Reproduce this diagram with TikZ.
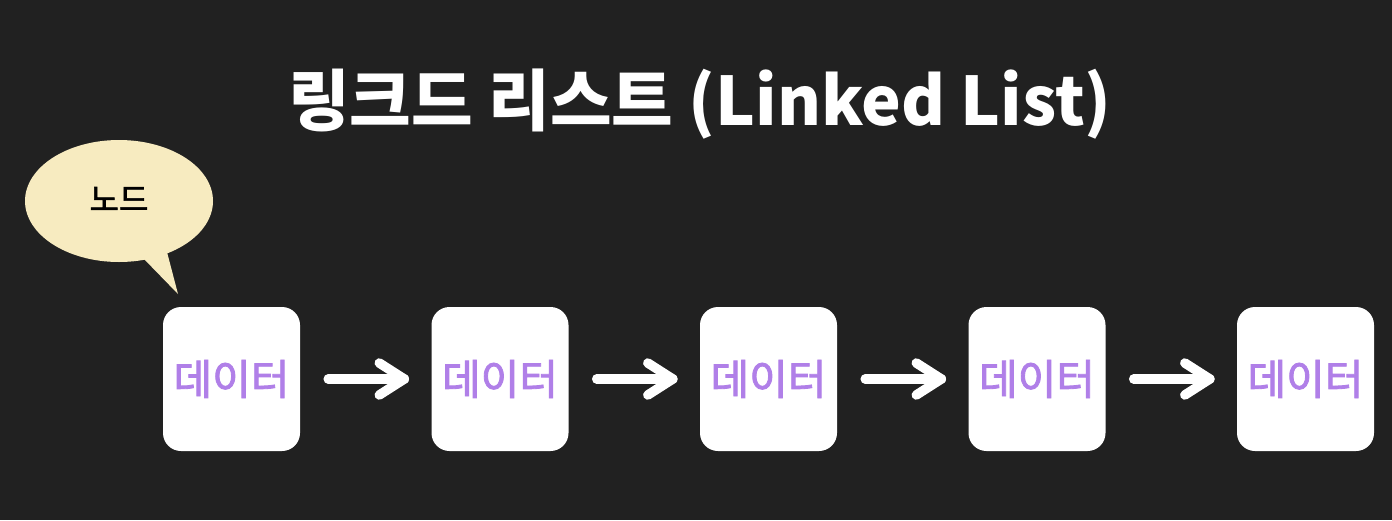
\documentclass[tikz,border=0pt]{standalone}
\usepackage{fontspec}
\newfontfamily\kr{Noto Sans CJK KR}
\newfontfamily\krmed[FakeBold=2]{Noto Sans CJK KR}
\definecolor{bg}{HTML}{212121}
\definecolor{bubble}{HTML}{F7EBC0}
\definecolor{datac}{HTML}{B07FE8}
\tikzset{
  databox/.style={draw=none, fill=white, rounded corners=18pt, minimum width=137pt, minimum height=144pt, inner sep=0pt,
    text=datac, font=\krmed\fontsize{42}{42}\selectfont},
  linkarrow/.style={draw=white, line width=9.5pt, line cap=round, line join=round},
}
\begin{document}
\begin{tikzpicture}[x=1pt,y=-1pt]
\fill[bg] (0,0) rectangle (1392,520);
\useasboundingbox (0,0) rectangle (1392,520);
\node[text=white, font=\kr\bfseries\fontsize{67}{67}\selectfont] (title) at (700,104) {링크드 리스트 (Linked List)};
% bubble
\fill[bubble] (143,258) -- (178,294) -- (167,252) -- cycle;
\fill[bubble] (119,201) ellipse [x radius=94, y radius=61];
\node[font=\krmed\fontsize{32}{32}\selectfont, text=black] (bub) at (119,199) {노드};
% boxes
\foreach \i/\x in {1/231.5, 2/500, 3/768.5, 4/1037, 5/1305.5}{
  \node[databox] (d\i) at (\x,379) {데이터};
}
\foreach \a/\b in {1/2,2/3,3/4,4/5}{
  \coordinate (s\a) at ([xshift=28pt]d\a.east);
  \coordinate (e\a) at ([xshift=-27pt]d\b.west);
  \draw[linkarrow] (s\a) -- (e\a);
  \draw[linkarrow] ([xshift=-25pt,yshift=-16pt]e\a) -- (e\a) -- ([xshift=-25pt,yshift=16pt]e\a);
}
\end{tikzpicture}
\end{document}
